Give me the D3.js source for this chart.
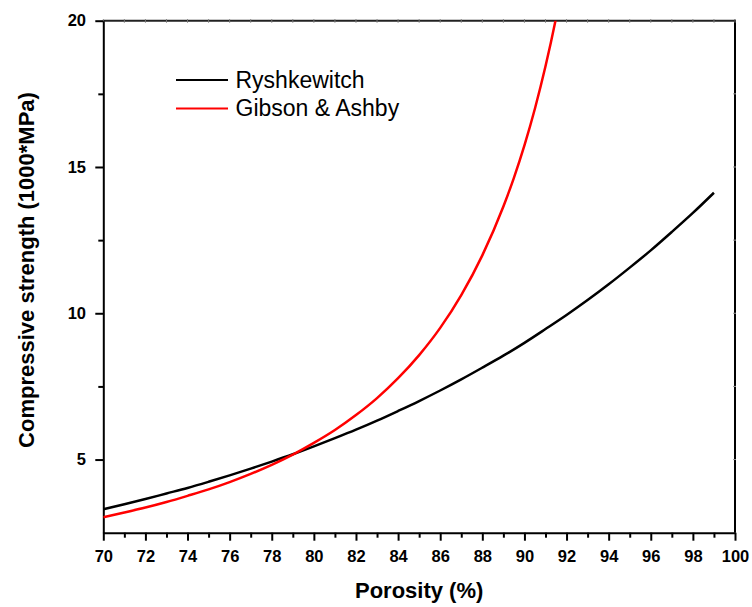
<!DOCTYPE html>
<html>
<head>
<meta charset="utf-8">
<script src="https://cdn.jsdelivr.net/npm/d3@7"></script>
<style>
  html, body { margin: 0; padding: 0; background: #fff; }
  svg { display: block; }
  text { font-family: "Liberation Sans", Arial, sans-serif; }
</style>
</head>
<body>
<svg id="chart" width="752" height="607"></svg>
<script>
// Porosity (%) and compressive strength (1000*MPa) for the two models
const ryshPorosity = [70, 71, 72, 73, 74, 75, 76, 77, 78, 79, 80, 81, 82, 83, 84,
                      85, 86, 87, 88, 89, 90, 91, 92, 93, 94, 95, 96, 97, 98, 99];
const ryshStrength = [3.30, 3.47, 3.65, 3.84, 4.03, 4.24, 4.46, 4.69, 4.93, 5.18,
                      5.45, 5.73, 6.02, 6.33, 6.66, 7.00, 7.36, 7.74, 8.14, 8.55,
                      8.99, 9.46, 9.94, 10.45, 10.99, 11.56, 12.15, 12.78, 13.43, 14.12];

const gibsonPorosity = [70, 71, 72, 73, 74, 75, 76, 77, 78, 79, 80, 81, 82, 83, 84,
                        85, 86, 87, 88, 89, 89.5, 90, 90.5, 91, 91.5, 92];
const gibsonStrength = [3.03, 3.19, 3.36, 3.55, 3.76, 3.98, 4.23, 4.51, 4.82, 5.17,
                        5.57, 6.01, 6.52, 7.10, 7.78, 8.57, 9.50, 10.62, 11.98, 13.65,
                        14.63, 15.74, 17.00, 18.44, 20.09, 22.0];

const seriesNames = ["Ryshkewitch", "Gibson & Ashby"];
const seriesColors = ["#000000", "#ff0000"];

const xMajorTicks = [70, 72, 74, 76, 78, 80, 82, 84, 86, 88, 90, 92, 94, 96, 98, 100];
const xMinorTicks = [71, 73, 75, 77, 79, 81, 83, 85, 87, 89, 91, 93, 95, 97, 99];
const yMajorTicks = [5, 10, 15, 20];
const yMinorTicks = [7.5, 12.5, 17.5];

const xTitle = "Porosity (%)";
const yTitle = "Compressive strength (1000*MPa)";

const svg = d3.select("#chart");
const plotLeft = 103.3, plotRight = 735, plotTop = 20.7, plotBottom = 532.7;

const x = d3.scaleLinear().domain([70, 100]).range([plotLeft, plotRight]);
const y = d3.scaleLinear().domain([2.5, 20]).range([plotBottom, plotTop]);

// clip the curves to the plotting frame
svg.append("defs").append("clipPath").attr("id", "plotClip")
  .append("rect")
  .attr("x", plotLeft).attr("y", plotTop)
  .attr("width", plotRight - plotLeft).attr("height", plotBottom - plotTop);

// top and right frame with faint inward ticks
const frame = svg.append("g");
frame.append("line")
  .attr("x1", plotLeft).attr("x2", plotRight).attr("y1", plotTop).attr("y2", plotTop)
  .attr("stroke", "#222").attr("stroke-width", 2);
frame.append("line")
  .attr("x1", plotRight).attr("x2", plotRight).attr("y1", plotTop - 1).attr("y2", plotBottom)
  .attr("stroke", "#000").attr("stroke-width", 2);
frame.selectAll(".tt").data(xMajorTicks.concat(xMinorTicks)).join("line")
  .attr("x1", d => x(d)).attr("x2", d => x(d))
  .attr("y1", plotTop - 1.5).attr("y2", plotTop + 2)
  .attr("stroke", "#777").attr("stroke-width", 1);
frame.selectAll(".rt").data(yMajorTicks.concat(yMinorTicks).filter(d => d < 20)).join("line")
  .attr("x1", plotRight - 2).attr("x2", plotRight + 1)
  .attr("y1", d => y(d)).attr("y2", d => y(d))
  .attr("stroke", "#999").attr("stroke-width", 1);

// bottom axis: major ticks with labels, minor ticks without
svg.append("g")
  .attr("transform", `translate(0,${plotBottom})`)
  .call(d3.axisBottom(x).tickValues(xMajorTicks).tickSize(8).tickSizeOuter(0)
        .tickPadding(10).tickFormat(d3.format("d")));
svg.append("g")
  .attr("transform", `translate(0,${plotBottom})`)
  .call(d3.axisBottom(x).tickValues(xMinorTicks).tickSize(5).tickSizeOuter(0).tickFormat(""))
  .call(g => g.select(".domain").remove());

// left axis
svg.append("g")
  .attr("transform", `translate(${plotLeft},0)`)
  .call(d3.axisLeft(y).tickValues(yMajorTicks).tickSize(8).tickSizeOuter(0)
        .tickPadding(9.3).tickFormat(d3.format("d")));
svg.append("g")
  .attr("transform", `translate(${plotLeft},0)`)
  .call(d3.axisLeft(y).tickValues(yMinorTicks).tickSize(5).tickSizeOuter(0).tickFormat(""))
  .call(g => g.select(".domain").remove());

svg.selectAll(".domain").attr("stroke", "#000").attr("stroke-width", 2);
svg.selectAll(".tick line").attr("stroke", "#000").attr("stroke-width", 2);
svg.selectAll(".tick text")
  .attr("font-family", "'Liberation Sans', Arial, sans-serif")
  .attr("font-size", 16.5).attr("font-weight", "bold").attr("fill", "#000");

// curves
const line = d3.line()
  .x(d => x(d[0])).y(d => y(d[1]))
  .curve(d3.curveMonotoneX);

const series = [
  d3.zip(ryshPorosity, ryshStrength),
  d3.zip(gibsonPorosity, gibsonStrength)
];

svg.append("g").attr("clip-path", "url(#plotClip)")
  .selectAll("path").data(series).join("path")
  .attr("d", line)
  .attr("fill", "none")
  .attr("stroke", (d, i) => seriesColors[i])
  .attr("stroke-width", 2.5)
  .attr("stroke-linejoin", "round");

// legend
const legend = svg.append("g");
seriesNames.forEach((name, i) => {
  const ly = 80 + i * 28.5;
  legend.append("line")
    .attr("x1", 176).attr("x2", 228).attr("y1", ly).attr("y2", ly)
    .attr("stroke", seriesColors[i]).attr("stroke-width", 2.2);
  legend.append("text")
    .attr("x", 235.5).attr("y", ly + 7.8)
    .attr("font-size", 23).attr("fill", "#000")
    .text(name);
});

// axis titles
svg.append("text")
  .attr("x", (plotLeft + plotRight) / 2).attr("y", 598)
  .attr("text-anchor", "middle")
  .attr("font-size", 22).attr("font-weight", "bold")
  .text(xTitle);

svg.append("text")
  .attr("transform", `translate(34,270) rotate(-90)`)
  .attr("text-anchor", "middle")
  .attr("font-size", 22).attr("font-weight", "bold")
  .text(yTitle);
</script>
</body>
</html>
